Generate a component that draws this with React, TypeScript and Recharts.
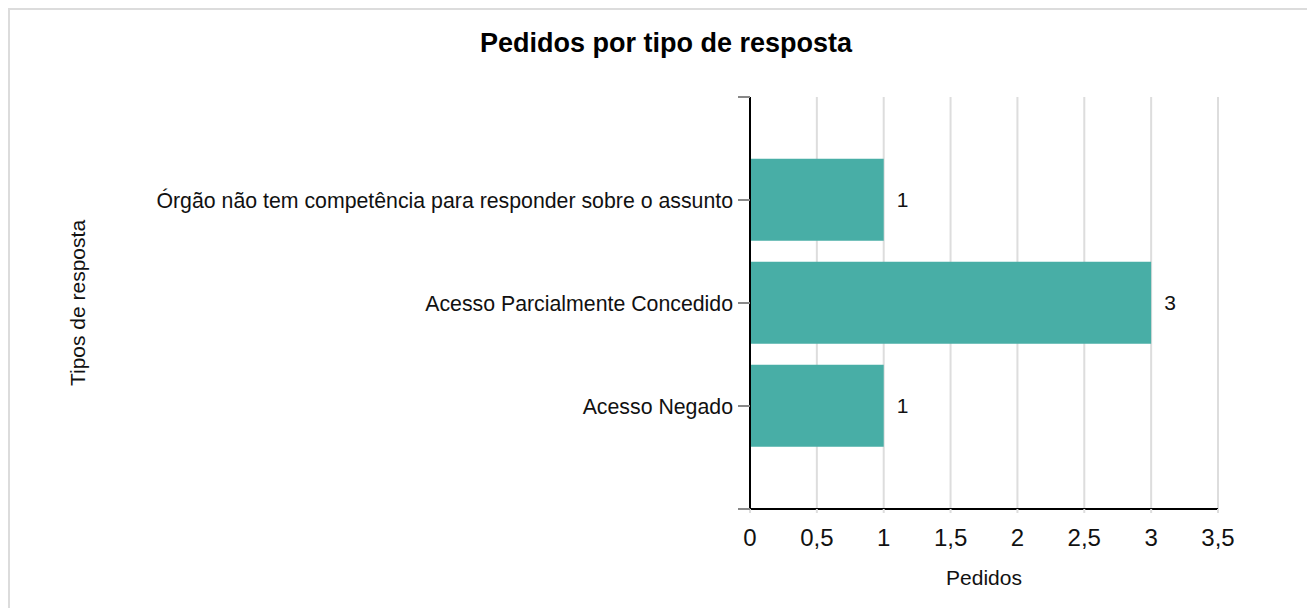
import { BarChart, Bar, XAxis, YAxis, CartesianGrid, LabelList } from 'recharts';

const categories = [
  'Órgão não tem competência para responder sobre o assunto',
  'Acesso Parcialmente Concedido',
  'Acesso Negado',
];
const pedidos = [1, 3, 1];
const xTicks = [0, 0.5, 1, 1.5, 2, 2.5, 3, 3.5];
const yTicks = [0, 1, 2, 3, 4];

const FONT = '"Liberation Sans", Arial, sans-serif';

const data = categories.map((name, i) => ({ pos: i + 1, name, value: pedidos[i] }));

const fmtX = (v: number) => String(v).replace('.', ',');
const fmtY = (v: number) => categories[v - 1] ?? '';

export default function App() {
  return (
    <div
      style={{
        position: 'relative',
        width: 1305,
        height: 598,
        borderTop: '2px solid #dcdcdc',
        borderLeft: '2px solid #dcdcdc',
        fontFamily: FONT,
      }}
    >
      <div
        style={{
          position: 'absolute',
          left: 0,
          top: 20,
          width: 1312,
          textAlign: 'center',
          fontSize: 27,
          lineHeight: '27px',
          fontWeight: 'bold',
          color: '#000',
        }}
      >
        Pedidos por tipo de resposta
      </div>
      <BarChart
        width={1295}
        height={590}
        data={data}
        layout="vertical"
        margin={{ top: 87, right: 87, bottom: 31, left: 0 }}
        barCategoryGap="10%"
      >
        <CartesianGrid horizontal={false} stroke="#dddddd" strokeWidth={2} />
        <XAxis
          type="number"
          domain={[0, 3.5]}
          ticks={xTicks}
          tickFormatter={fmtX}
          height={60}
          axisLine={{ stroke: '#000', strokeWidth: 2 }}
          tickLine={{ stroke: '#dddddd', strokeWidth: 2 }}
          tickSize={4}
          tickMargin={16}
          tick={{ fontSize: 24, fill: '#111', fontFamily: FONT }}
          label={{
            content: ({ viewBox }: any) => (
              <text
                x={viewBox.x + viewBox.width / 2}
                y={575}
                textAnchor="middle"
                fontSize={21}
                fill="#111"
                fontFamily={FONT}
              >
                Pedidos
              </text>
            ),
          }}
        />
        <YAxis
          type="number"
          dataKey="pos"
          domain={[0, 4]}
          ticks={yTicks}
          width={740}
          tickFormatter={fmtY}
          axisLine={{ stroke: '#000', strokeWidth: 2 }}
          tickLine={{ stroke: '#888', strokeWidth: 2 }}
          tickSize={12}
          tickMargin={5}
          tick={{ fontSize: 21.3, fill: '#111', fontFamily: FONT }}
          label={{
            content: ({ viewBox }: any) => {
              const cy = viewBox.y + viewBox.height / 2;
              return (
                <text
                  x={75}
                  y={cy}
                  transform={`rotate(-90, 75, ${cy})`}
                  textAnchor="middle"
                  fontSize={21}
                  fill="#111"
                  fontFamily={FONT}
                >
                  Tipos de resposta
                </text>
              );
            },
          }}
        />
        <Bar dataKey="value" fill="#48aea6" isAnimationActive={false}>
          <LabelList
            dataKey="value"
            position="right"
            offset={13}
            fontSize={21}
            fill="#111"
            fontFamily={FONT}
          />
        </Bar>
      </BarChart>
    </div>
  );
}
